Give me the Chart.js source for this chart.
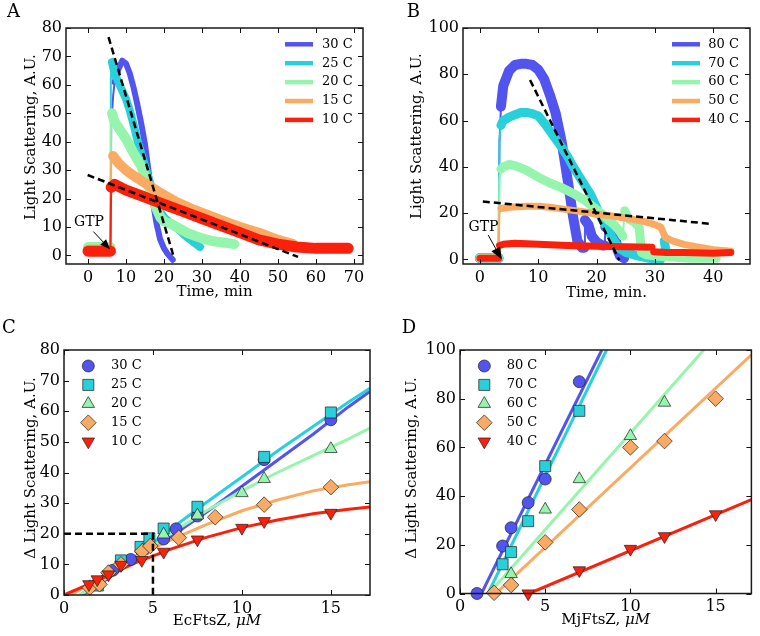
<!DOCTYPE html>
<html>
<head>
<meta charset="utf-8">
<title>FtsZ light scattering</title>
<script src="https://cdn.jsdelivr.net/npm/chart.js@4.4.1/dist/chart.umd.min.js"></script>
<style>
  html, body { margin:0; padding:0; background:#ffffff; }
  #fig { position:relative; width:760px; height:636px; overflow:hidden; background:#fff; }
  #fig canvas { position:absolute; }
</style>
</head>
<body>
<div id="fig">
  <canvas id="panelA" width="380" height="318" style="left:0;top:0"></canvas>
  <canvas id="panelB" width="380" height="318" style="left:380px;top:0"></canvas>
  <canvas id="panelC" width="380" height="318" style="left:0;top:318px"></canvas>
  <canvas id="panelD" width="380" height="318" style="left:380px;top:318px"></canvas>
</div>
<script>
// ================= DATA =================
// ---- Panel A : EcFtsZ traces (time, min / light scattering, A.U.)
const aLabels = ['30 C', '25 C', '20 C', '15 C', '10 C'];
const aT30 = [0, 5.9, 6.1, 6.6, 7, 8, 9, 10, 11, 12, 13, 14, 15, 16, 17, 18, 19, 20, 21, 22.3];
const aY30 = [2, 2, 45, 56, 61, 65.5, 68.5, 67.5, 64, 59, 53, 46.5, 39, 29, 19.5, 11.5, 5.6, 2.5, 0.5, -1.5];
const aT25 = [0, 5.9, 6.0, 6.3, 7, 8, 9, 10, 11, 12, 13, 14, 15, 16, 17, 18, 19, 20, 22, 24, 26, 28, 29.5];
const aY25 = [2.5, 2.5, 62, 68, 64, 61, 58, 55, 51, 46, 40.5, 36, 31.5, 27, 23, 19, 15.5, 13.5, 11, 9, 6.5, 4.5, 3];
const aT20 = [0, 5.9, 6.0, 6.3, 7, 8, 10, 12, 14, 15, 16, 17, 18, 19, 20, 22, 24, 26, 28, 30, 33, 36, 38.5];
const aY20 = [3, 3, 44, 50, 47, 45, 41, 36, 31.5, 28, 24, 20.5, 16.5, 13.5, 12, 11, 9.5, 8, 7, 6, 5, 4.5, 4];
const aT15 = [0, 5.9, 6.1, 6.6, 8, 10, 12, 15, 19, 23, 28, 32, 36, 40, 45, 50, 54];
const aY15 = [2, 2, 33, 35, 32.5, 30, 28, 25.5, 22, 19, 16, 14, 12, 10, 8, 5.5, 4];
const aT10 = [0, 5.9, 6.1, 7, 10, 15, 20, 25, 30, 35, 40, 45, 50, 55, 60, 65, 68.5];
const aY10 = [1.5, 1.5, 24, 25, 23, 20.5, 18, 15.5, 13, 10.5, 8, 5.5, 4, 3, 2.5, 2.5, 2.5];
const aFastX = [5.4, 22.4], aFastY = [76.8, 0.3];
const aSlowX = [-0.1, 55.3], aSlowY = [28.3, -0.5];
const aXTicks = [0, 10, 20, 30, 40, 50, 60, 70];
const aYTicks = [0, 10, 20, 30, 40, 50, 60, 70, 80];

// ---- Panel B : MjFtsZ traces
const bLabels = ['80 C', '70 C', '60 C', '50 C', '40 C'];
const bT80 = [0, 3.2, 3.35, 3.6, 4, 5, 6, 7, 8, 9, 10, 11, 12, 13, 14, 15, 16, 16.7, 17.5, 17.9, 18.0, 18.6, 19.2, 20, 21, 21.4, 21.5, 22.5, 23.2, 23.6, 24, 24.7];
const bY80 = [0.5, 0.5, 50, 66, 75, 81.5, 84, 84.5, 84.5, 84, 82, 78, 71, 63, 51, 35, 18, 8, 5, 5, 17, 15, 10, 7.5, 6, 6, 14, 13, 10, 4, 1.5, 0.5];
const bT70 = [0, 3.2, 3.35, 3.6, 4, 5, 6, 7, 8, 9, 10, 11, 12, 13, 14, 15, 16, 17, 18, 19, 20, 21, 22, 23, 24, 25, 27, 29, 31, 31.3, 31.6, 32];
const bY70 = [0.8, 0.8, 52, 58, 60, 61.5, 62.5, 63.5, 63.5, 63, 62, 59, 55.5, 52, 48.5, 44.5, 40, 36, 32, 28, 22.5, 17, 12.5, 8, 4.5, 3, 1.5, 0.5, 0, 8, 8, 2];
const bT60 = [0, 3.2, 3.35, 3.6, 4, 5, 6, 8, 10, 12, 14, 16, 18, 20, 21, 22, 23, 24, 24.5, 24.8, 25.5, 26.5, 27.3, 27.7, 28.5, 30, 33, 36, 40.5];
const bY60 = [0.5, 0.5, 35, 39, 40, 41, 40.5, 38.5, 35.5, 33, 31, 28.5, 25.5, 21.5, 19.5, 17, 15, 12, 10, 21, 17.5, 16, 14, 3, 2, 1.5, 1, 0.5, 0.5];
const bT50 = [0, 3.2, 3.35, 3.6, 5, 8, 10, 12, 15, 18, 20, 22, 25, 28, 30, 31, 31.8, 33, 35, 37, 40, 43];
const bY50 = [0.5, 0.5, 20, 22, 22.5, 23, 23, 22.5, 21.5, 20.5, 19.5, 19, 17.8, 16.5, 15, 14, 9.5, 8, 6.5, 5.5, 4.2, 3.5];
const bT40 = [0, 3.2, 3.35, 4, 6, 10, 15, 20, 25, 29.5, 29.8, 32, 35, 40, 43];
const bY40 = [0.5, 0.5, 6, 6.5, 7, 6.5, 6, 5.7, 5.5, 5.2, 3.3, 3, 3, 2.6, 3];
const bFastX = [8.6, 23.9], bFastY = [77.5, -0.4];
const bSlowX = [0.5, 39.4], bSlowY = [25, 15.4];
const bXTicks = [0, 10, 20, 30, 40];
const bYTicks = [0, 20, 40, 60, 80, 100];

// ---- Panel C : EcFtsZ amplitude vs concentration (uM)
const cLabels = ['30 C', '25 C', '20 C', '15 C', '10 C'];
const cX30 = [2.75, 3.75, 5.6, 6.3, 7.5, 11.25, 15];
const cY30 = [8.1, 11.6, 18.3, 21.6, 25.8, 44.2, 57.2];
const cX25 = [1.9, 3.2, 4.3, 4.8, 5.6, 7.5, 11.25, 15];
const cY25 = [3.1, 11.3, 15.7, 18.5, 21.7, 28.8, 45.1, 59.6];
const cX20 = [1.9, 2.5, 4.4, 5.6, 7.5, 10, 11.25, 15];
const cY20 = [3.5, 7.5, 14.5, 19.8, 26, 33.3, 37.9, 47.7];
const cX15 = [1.45, 2.0, 2.5, 3.2, 4.4, 4.85, 6.45, 8.5, 11.25, 15];
const cY15 = [2.4, 3.5, 7.3, 10, 14.3, 16, 18.7, 25.4, 29.5, 35.2];
const cX10 = [1.4, 1.87, 2.5, 3.2, 4.37, 5.6, 7.5, 10, 11.25, 15];
const cY10 = [3.5, 5.1, 6.7, 9.8, 11.4, 14.1, 18.1, 21.9, 24.1, 26.8];
const cFitX30 = [1.0, 2, 4, 6, 8, 10, 12, 14, 16, 17.2];
const cFitY30 = [0, 3.5, 11.5, 19, 27, 35.5, 44, 52.5, 61.5, 66.5];
const cFitX25 = [0.9, 2, 4, 6, 8, 10, 12, 14, 16, 17.2];
const cFitY25 = [0, 4.5, 12.5, 21.5, 30.2, 38.5, 47, 55, 63, 67.5];
const cFitX20 = [0.9, 2, 4, 6, 8, 10, 12, 14, 16, 17.2];
const cFitY20 = [0, 4, 12, 20, 27.5, 34, 40, 45.5, 51, 54.5];
const cFitX15 = [0.4, 2, 4, 6, 8, 10, 12, 14, 16, 17.2];
const cFitY15 = [0, 5.5, 12.5, 18, 23, 27.5, 31, 34, 36, 37];
const cFitX10 = [0, 2, 4, 6, 8, 10, 12, 14, 16, 17.2];
const cFitY10 = [0, 5, 10.5, 15, 18.8, 22, 24.5, 26.5, 28, 28.7];
const cGuideX = [0, 5, 5], cGuideY = [20, 20, 0];
const cXTicks = [0, 5, 10, 15];
const cYTicks = [0, 10, 20, 30, 40, 50, 60, 70, 80];

// ---- Panel D : MjFtsZ amplitude vs concentration (uM)
const dLabels = ['80 C', '70 C', '60 C', '50 C', '40 C'];
const dX80 = [1, 2.5, 3, 4, 5, 7];
const dY80 = [0, 19.5, 27, 37.3, 47, 87];
const dX70 = [2.5, 3, 4, 5, 7];
const dY70 = [12, 17, 29.7, 52.3, 75];
const dX60 = [3, 5, 7, 10, 12];
const dY60 = [8, 34.5, 47, 64.7, 78.4];
const dX50 = [2, 3, 5, 7, 10, 12, 15];
const dY50 = [0.3, 3.5, 21, 34.5, 60, 62.6, 80];
const dX40 = [4, 7, 10, 12, 15];
const dY40 = [0, 9.5, 18.3, 23.5, 32.5];
const dFitX80 = [1.26, 8.32], dFitY80 = [0, 100];
const dFitX70 = [1.64, 8.6], dFitY70 = [0, 100];
const dFitX60 = [1.7, 14.3], dFitY60 = [0, 100];
const dFitX50 = [2.1, 17.1], dFitY50 = [0, 98];
const dFitX40 = [4.06, 17.1], dFitY40 = [0, 38.6];
const dXTicks = [0, 5, 10, 15];
const dYTicks = [0, 20, 40, 60, 80, 100];

// ================= STYLE =================
const SERIF = "'DejaVu Serif', 'Liberation Serif', serif";
const PALETTE = ['rgb(82,84,240)', 'rgb(40,208,218)', 'rgb(150,245,172)', 'rgb(250,170,98)', 'rgb(250,32,12)'];
const EDGE = 'rgba(35,35,35,0.9)';

function pts(xs, ys) { return xs.map((x, i) => ({ x: x, y: ys[i] })); }

function trace(label, xs, ys, color, width, order) {
  return {
    label: label, data: pts(xs, ys), showLine: true, inLegend: true,
    borderColor: color, backgroundColor: color, borderWidth: width,
    pointRadius: 0, pointHoverRadius: 0, order: order,
    borderJoinStyle: 'round', borderCapStyle: 'round',
    segment: { borderWidth: c => (Math.abs(c.p1.x - c.p0.x) < 2 ? 2 : width) }
  };
}
function line(xs, ys, color, width, order, dash) {
  return {
    data: pts(xs, ys), showLine: true, inLegend: false,
    borderColor: color, backgroundColor: color, borderWidth: width,
    borderDash: dash || [], pointRadius: 0, pointHoverRadius: 0, order: order
  };
}
function marks(label, xs, ys, color, style, radius, rotation, order) {
  return {
    label: label, data: pts(xs, ys), showLine: false, inLegend: true,
    pointStyle: style, pointRadius: radius, pointHoverRadius: radius, pointRotation: rotation,
    pointBackgroundColor: color, pointBorderColor: EDGE, pointBorderWidth: 0.8,
    backgroundColor: color, borderColor: EDGE, order: order, clip: false
  };
}

function axis(min, max, ticks, fit) {
  return {
    type: 'linear', min: min, max: max, afterFit: fit,
    afterBuildTicks: s => { s.ticks = ticks.map(v => ({ value: v })); },
    grid: { display: false, drawTicks: false }, border: { display: false },
    ticks: { font: { family: SERIF, size: 16 }, color: '#000', padding: 4, autoSkip: false, maxRotation: 0, callback: v => String(v) },
    title: { display: false }
  };
}

const decorPlugin = {
  id: 'decor',
  afterDraw(chart, args, o) {
    const ctx = chart.ctx, a = chart.chartArea;
    const xs = chart.scales.x, ys = chart.scales.y;
    ctx.save();
    // inward ticks on all four sides
    ctx.strokeStyle = '#111'; ctx.lineWidth = 1;
    ctx.beginPath();
    xs.ticks.forEach(t => {
      const p = Math.round(xs.getPixelForValue(t.value)) + 0.5;
      ctx.moveTo(p, a.bottom); ctx.lineTo(p, a.bottom - 5);
      ctx.moveTo(p, a.top); ctx.lineTo(p, a.top + 5);
    });
    ys.ticks.forEach(t => {
      const p = Math.round(ys.getPixelForValue(t.value)) + 0.5;
      ctx.moveTo(a.left, p); ctx.lineTo(a.left + 5, p);
      ctx.moveTo(a.right, p); ctx.lineTo(a.right - 5, p);
    });
    ctx.stroke();
    ctx.lineWidth = 1.5; ctx.strokeStyle = '#1a1a1a';
    ctx.strokeRect(a.left, a.top, a.right - a.left, a.bottom - a.top);

    ctx.fillStyle = '#000';
    // panel letter
    ctx.font = '18px ' + SERIF; ctx.textAlign = 'left'; ctx.textBaseline = 'alphabetic';
    ctx.fillText(o.letter, o.letterX, o.letterY);

    // axis titles
    ctx.textBaseline = 'middle';
    const cx = (a.left + a.right) / 2;
    if (o.xMath) {
      ctx.font = '15px ' + SERIF; const w1 = ctx.measureText(o.xTitle).width;
      ctx.font = 'italic 15px ' + SERIF; const w2 = ctx.measureText(o.xMath).width;
      const x0 = cx - (w1 + w2) / 2;
      ctx.textAlign = 'left';
      ctx.font = '15px ' + SERIF; ctx.fillText(o.xTitle, x0, o.xTitleY);
      ctx.font = 'italic 15px ' + SERIF; ctx.fillText(o.xMath, x0 + w1, o.xTitleY);
    } else {
      ctx.font = '15px ' + SERIF; ctx.textAlign = 'center';
      ctx.fillText(o.xTitle, cx, o.xTitleY);
    }
    ctx.save();
    ctx.translate(o.yTitleX, o.yTitleY); ctx.rotate(-Math.PI / 2);
    ctx.font = '15px ' + SERIF; ctx.textAlign = 'center';
    ctx.fillText(o.yTitle, 0, 0);
    ctx.restore();

    // legend
    const L = o.legend;
    chart.data.datasets.filter(d => d.inLegend).forEach((d, i) => {
      const y = a.top + L.top + i * L.dy;
      let tx;
      if (L.kind === 'line') {
        ctx.strokeStyle = d.borderColor; ctx.lineWidth = 4.5; ctx.lineCap = 'butt';
        ctx.beginPath(); ctx.moveTo(a.right - L.from, y); ctx.lineTo(a.right - L.to, y); ctx.stroke();
        tx = a.right - L.text;
      } else {
        ctx.fillStyle = d.pointBackgroundColor; ctx.strokeStyle = d.pointBorderColor; ctx.lineWidth = d.pointBorderWidth;
        Chart.helpers.drawPoint(ctx, { pointStyle: d.pointStyle, rotation: d.pointRotation, radius: d.pointRadius, borderWidth: d.pointBorderWidth }, a.left + L.mark, y);
        tx = a.left + L.text;
      }
      ctx.fillStyle = '#000'; ctx.font = '13px ' + SERIF; ctx.textAlign = 'left'; ctx.textBaseline = 'middle';
      ctx.fillText(d.label, tx, y);
    });

    // GTP annotation arrow
    if (o.gtp) {
      const g = o.gtp;
      const px = xs.getPixelForValue(g.at[0]), py = ys.getPixelForValue(g.at[1]);
      ctx.fillStyle = '#000'; ctx.font = '14px ' + SERIF; ctx.textAlign = 'center'; ctx.textBaseline = 'middle';
      ctx.fillText(g.text, px, py);
      const fx = xs.getPixelForValue(g.from[0]), fy = ys.getPixelForValue(g.from[1]);
      const tx2 = xs.getPixelForValue(g.to[0]), ty2 = ys.getPixelForValue(g.to[1]);
      const ang = Math.atan2(ty2 - fy, tx2 - fx);
      const bx = tx2 - g.head * Math.cos(ang), by = ty2 - g.head * Math.sin(ang);
      ctx.strokeStyle = '#000'; ctx.lineWidth = 1;
      ctx.beginPath(); ctx.moveTo(fx, fy); ctx.lineTo(bx, by); ctx.stroke();
      ctx.beginPath();
      ctx.moveTo(tx2, ty2);
      ctx.lineTo(bx + g.half * Math.sin(ang), by - g.half * Math.cos(ang));
      ctx.lineTo(bx - g.half * Math.sin(ang), by + g.half * Math.cos(ang));
      ctx.closePath(); ctx.fill();
    }
    ctx.restore();
  }
};

function panel(id, cfg) {
  return new Chart(document.getElementById(id), {
    type: 'scatter',
    data: { datasets: cfg.datasets },
    options: {
      responsive: false, animation: false, events: [],
      layout: { padding: { left: 0, top: cfg.top, right: cfg.right, bottom: 0 } },
      plugins: { legend: { display: false }, tooltip: { enabled: false }, decor: cfg.decor },
      scales: {
        x: axis(cfg.x[0], cfg.x[1], cfg.xTicks, s => { s.height = cfg.xAxisH; }),
        y: axis(cfg.y[0], cfg.y[1], cfg.yTicks, s => { s.width = cfg.yAxisW; })
      }
    },
    plugins: [decorPlugin]
  });
}

const DASH = [7, 4];

// ---- A
panel('panelA', {
  top: 28, right: 17, yAxisW: 66, xAxisH: 54,
  x: [-5.8, 72.4], y: [-3, 80], xTicks: aXTicks, yTicks: aYTicks,
  datasets: [
    trace(aLabels[0], aT30, aY30, PALETTE[0], 6, 5),
    trace(aLabels[1], aT25, aY25, PALETTE[1], 8, 4),
    trace(aLabels[2], aT20, aY20, PALETTE[2], 10, 3),
    trace(aLabels[3], aT15, aY15, PALETTE[3], 10, 2),
    trace(aLabels[4], aT10, aY10, PALETTE[4], 11, 1),
    line(aFastX, aFastY, '#000', 2.5, 0, DASH),
    line(aSlowX, aSlowY, '#000', 2.5, 0, DASH)
  ],
  decor: {
    letter: 'A', letterX: 7, letterY: 17,
    xTitle: 'Time, min', xTitleY: 292,
    yTitle: 'Light Scattering, A.U.', yTitleX: 31, yTitleY: 137,
    legend: { kind: 'line', top: 16.3, dy: 18.9, from: 78, to: 50, text: 41 },
    gtp: { text: 'GTP', at: [0.26, 11.8], from: [1.4, 8.4], to: [5.8, 2.2], head: 10, half: 4 }
  }
});

// ---- B
panel('panelB', {
  top: 28, right: 10, yAxisW: 83, xAxisH: 54,
  x: [-2.9, 46.3], y: [-2, 100], xTicks: bXTicks, yTicks: bYTicks,
  datasets: [
    trace(bLabels[0], bT80, bY80, PALETTE[0], 10, 5),
    trace(bLabels[1], bT70, bY70, PALETTE[1], 9, 4),
    trace(bLabels[2], bT60, bY60, PALETTE[2], 9, 3),
    trace(bLabels[3], bT50, bY50, PALETTE[3], 7, 2),
    trace(bLabels[4], bT40, bY40, PALETTE[4], 7, 1),
    line(bFastX, bFastY, '#000', 2.5, 0, DASH),
    line(bSlowX, bSlowY, '#000', 2.5, 0, DASH)
  ],
  decor: {
    letter: 'B', letterX: 26.7, letterY: 17,
    xTitle: 'Time, min.', xTitleY: 293,
    yTitle: 'Light Scattering, A.U.', yTitleX: 37.5, yTitleY: 136,
    legend: { kind: 'line', top: 16.3, dy: 18.9, from: 78, to: 50, text: 41.7 },
    gtp: { text: 'GTP', at: [0.6, 14], from: [1.42, 10.5], to: [3.73, 0], head: 12, half: 5 }
  }
});

// ---- C
panel('panelC', {
  top: 32, right: 10, yAxisW: 64, xAxisH: 41,
  x: [0, 17.2], y: [0, 80], xTicks: cXTicks, yTicks: cYTicks,
  datasets: [
    marks(cLabels[0], cX30, cY30, PALETTE[0], 'circle', 6, 0, 5),
    marks(cLabels[1], cX25, cY25, PALETTE[1], 'rect', 7.8, 0, 4),
    marks(cLabels[2], cX20, cY20, PALETTE[2], 'triangle', 7.2, 0, 3),
    marks(cLabels[3], cX15, cY15, PALETTE[3], 'rectRot', 7.8, 0, 2),
    marks(cLabels[4], cX10, cY10, PALETTE[4], 'triangle', 7.2, 180, 1),
    line(cFitX30, cFitY30, PALETTE[0], 3, 14),
    line(cFitX25, cFitY25, PALETTE[1], 3, 13),
    line(cFitX20, cFitY20, PALETTE[2], 3, 12),
    line(cFitX15, cFitY15, PALETTE[3], 3, 11),
    line(cFitX10, cFitY10, PALETTE[4], 3, 10),
    line(cGuideX, cGuideY, '#000', 2.5, 0, DASH)
  ],
  decor: {
    letter: 'C', letterX: 2, letterY: 15.3,
    xTitle: 'EcFtsZ, ', xMath: 'μM', xTitleY: 303,
    yTitle: 'Δ Light Scattering, A.U.', yTitleX: 31, yTitleY: 150,
    legend: { kind: 'marker', top: 16, dy: 18.9, mark: 24.3, text: 47 }
  }
});

// ---- D
panel('panelD', {
  top: 32, right: 3, yAxisW: 80, xAxisH: 42.5,
  x: [0, 17.1], y: [0, 100], xTicks: dXTicks, yTicks: dYTicks,
  datasets: [
    marks(dLabels[0], dX80, dY80, PALETTE[0], 'circle', 6, 0, 5),
    marks(dLabels[1], dX70, dY70, PALETTE[1], 'rect', 7.8, 0, 4),
    marks(dLabels[2], dX60, dY60, PALETTE[2], 'triangle', 7.2, 0, 3),
    marks(dLabels[3], dX50, dY50, PALETTE[3], 'rectRot', 7.8, 0, 2),
    marks(dLabels[4], dX40, dY40, PALETTE[4], 'triangle', 7.2, 180, 1),
    line(dFitX80, dFitY80, PALETTE[0], 3, 14),
    line(dFitX70, dFitY70, PALETTE[1], 3, 13),
    line(dFitX60, dFitY60, PALETTE[2], 3, 12),
    line(dFitX50, dFitY50, PALETTE[3], 3, 11),
    line(dFitX40, dFitY40, PALETTE[4], 3, 10)
  ],
  decor: {
    letter: 'D', letterX: 21.7, letterY: 15.3,
    xTitle: 'MjFtsZ, ', xMath: 'μM', xTitleY: 302,
    yTitle: 'Δ Light Scattering, A.U.', yTitleX: 32.5, yTitleY: 150,
    legend: { kind: 'marker', top: 16, dy: 18.9, mark: 24.3, text: 46.7 }
  }
});
</script>
</body>
</html>
